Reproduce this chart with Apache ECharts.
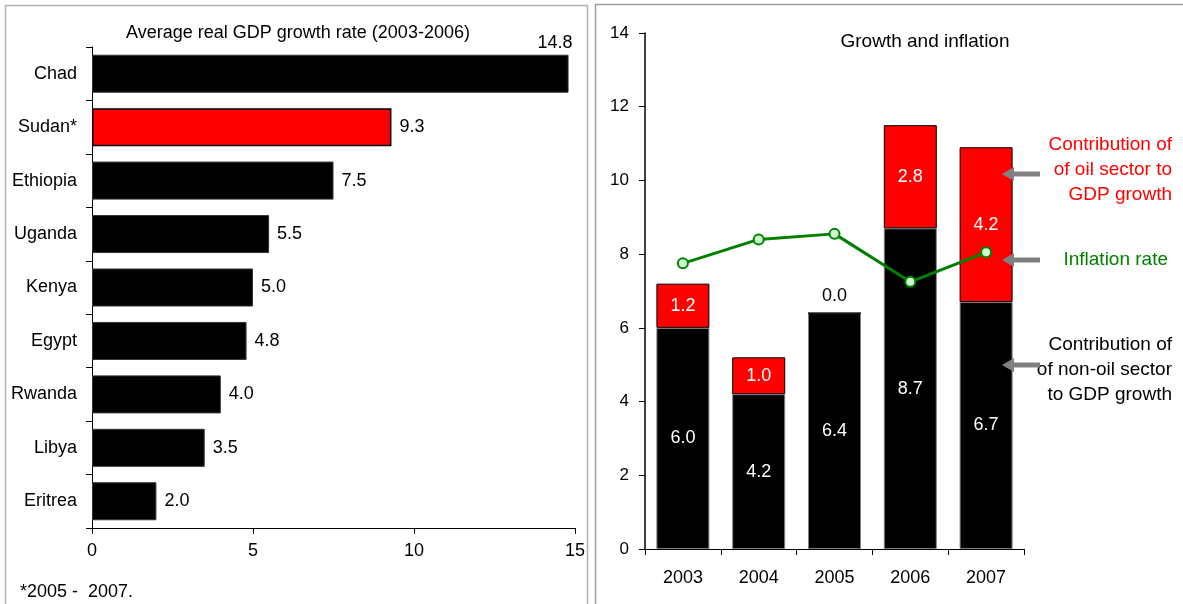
<!DOCTYPE html>
<html><head><meta charset="utf-8">
<script src="https://cdn.jsdelivr.net/npm/echarts@6/dist/echarts.min.js"></script>
<style>html,body{margin:0;padding:0;background:#fff}#c{width:1183px;height:604px}</style>
</head><body><div id="c"></div>
<script>
// ---- Data ----
const countries = ['Chad', 'Sudan*', 'Ethiopia', 'Uganda', 'Kenya', 'Egypt', 'Rwanda', 'Libya', 'Eritrea'];
const avgGrowth = [14.8, 9.3, 7.5, 5.5, 5.0, 4.8, 4.0, 3.5, 2.0];
const highlightCountry = 'Sudan*';
const leftTitle = 'Average real GDP growth rate (2003-2006)';
const footnote = '*2005 -  2007.';

const years = ['2003', '2004', '2005', '2006', '2007'];
const nonOilContribution = [6.0, 4.2, 6.4, 8.7, 6.7];
const oilContribution = [1.2, 1.0, 0.0, 2.8, 4.2];
const inflationRate = [7.75, 8.4, 8.55, 7.25, 8.05];
const rightTitle = 'Growth and inflation';
const oilNote = ['Contribution of', 'of oil sector to', 'GDP growth'];
const inflationNote = 'Inflation rate';
const nonOilNote = ['Contribution of', 'of non-oil sector', 'to GDP growth'];

const leftAxisMax = 15, leftAxisInterval = 5;
const rightAxisMax = 14, rightAxisInterval = 2;

// ---- Chart ----
const FONT = "'Liberation Sans', Arial, sans-serif";
const FS = 18;
const chart = echarts.init(document.getElementById('c'), null, {renderer: 'canvas'});

const leftData = avgGrowth.map((v, i) => {
  const item = {value: v};
  if (countries[i] === highlightCountry) {
    item.itemStyle = {color: '#ff0000', borderColor: '#000', borderWidth: 1.5};
  }
  if (v / leftAxisMax > 0.9) {
    item.label = {position: ['100%', 0], align: 'right', verticalAlign: 'bottom', offset: [4, -3]};
  }
  return item;
});

const oilData = oilContribution.map(v => v === 0
  ? {value: v, label: {position: 'top', color: '#000', distance: 8}}
  : {value: v});

function arrow(y) {
  return {
    type: 'group', z: 100,
    children: [
      {type: 'line', z: 100, shape: {x1: 1040, y1: y, x2: 1012, y2: y}, style: {stroke: '#808080', lineWidth: 5}},
      {type: 'polygon', z: 100, shape: {points: [[1002, y], [1014, y - 7], [1014, y + 7]]}, style: {fill: '#808080'}}
    ]
  };
}
function noteLines(lines, y0, color) {
  return lines.map((t, i) => ({
    type: 'text', x: 1172, y: y0 + i * 25, z: 100,
    style: {text: t, fill: color, font: '19px ' + FONT, textAlign: 'right', textVerticalAlign: 'middle'}
  }));
}

const option = {
  animation: false,
  textStyle: {fontFamily: FONT},
  grid: [
    {left: 92, top: 47, width: 483, height: 481},
    {left: 645, top: 33, width: 379, height: 516}
  ],
  xAxis: [
    {
      type: 'value', gridIndex: 0, min: 0, max: leftAxisMax, interval: leftAxisInterval,
      axisLine: {show: true, lineStyle: {color: '#000', width: 1}},
      axisTick: {show: true, length: 6, lineStyle: {color: '#000'}},
      splitLine: {show: false},
      axisLabel: {color: '#000', fontSize: FS, margin: 14, fontFamily: FONT}
    },
    {
      type: 'category', gridIndex: 1, data: years,
      axisLine: {show: true, lineStyle: {color: '#000', width: 1}},
      axisTick: {show: true, length: 6, lineStyle: {color: '#000'}},
      axisLabel: {color: '#000', fontSize: FS, margin: 20, fontFamily: FONT}
    }
  ],
  yAxis: [
    {
      type: 'category', gridIndex: 0, data: countries, inverse: true,
      axisLine: {show: true, lineStyle: {color: '#000', width: 1}},
      axisTick: {show: true, length: 6, lineStyle: {color: '#000'}},
      axisLabel: {color: '#000', fontSize: FS, margin: 15, fontFamily: FONT}
    },
    {
      type: 'value', gridIndex: 1, min: 0, max: rightAxisMax, interval: rightAxisInterval,
      axisLine: {show: true, lineStyle: {color: '#000', width: 1.5}},
      axisTick: {show: true, length: 6, lineStyle: {color: '#000'}},
      splitLine: {show: false},
      axisLabel: {color: '#000', fontSize: 17, margin: 16, fontFamily: FONT}
    }
  ],
  series: [
    {
      type: 'bar', xAxisIndex: 0, yAxisIndex: 0, data: leftData, barWidth: 38,
      itemStyle: {color: '#000', borderColor: '#333', borderWidth: 1},
      label: {show: true, position: 'right', color: '#000', fontSize: FS, distance: 8,
              fontFamily: FONT, formatter: p => p.value.toFixed(1)}
    },
    {
      name: 'Non-oil', type: 'bar', xAxisIndex: 1, yAxisIndex: 1, stack: 'gdp', barWidth: 53,
      data: nonOilContribution,
      itemStyle: {color: '#000', borderColor: '#808080', borderWidth: 1},
      label: {show: true, position: 'inside', color: '#fff', fontSize: FS, fontFamily: FONT,
              formatter: p => p.value.toFixed(1)}
    },
    {
      name: 'Oil', type: 'bar', xAxisIndex: 1, yAxisIndex: 1, stack: 'gdp', barWidth: 53,
      data: oilData,
      itemStyle: {color: '#ff0000', borderColor: '#000', borderWidth: 1},
      label: {show: true, position: 'inside', color: '#fff', fontSize: FS, fontFamily: FONT,
              formatter: p => p.value.toFixed(1)}
    },
    {
      name: 'Inflation', type: 'line', xAxisIndex: 1, yAxisIndex: 1, data: inflationRate, z: 5,
      lineStyle: {color: '#008000', width: 3},
      symbol: 'circle', symbolSize: 10,
      itemStyle: {color: '#ccffcc', borderColor: '#008000', borderWidth: 2}
    }
  ],
  graphic: [
    {type: 'rect', shape: {x: 5.5, y: 5.5, width: 582, height: 620}, style: {fill: 'none', stroke: '#b0b0b0', lineWidth: 1.5}, z: -10},
    {type: 'rect', shape: {x: 595.5, y: 4.5, width: 620, height: 620}, style: {fill: 'none', stroke: '#a0a0a0', lineWidth: 1.5}, z: -10},
    {type: 'text', x: 298, y: 33, style: {text: leftTitle, fill: '#000', font: '18px ' + FONT, textAlign: 'center', textVerticalAlign: 'middle'}},
    {type: 'text', x: 20, y: 592, style: {text: footnote, fill: '#000', font: '18px ' + FONT, textAlign: 'left', textVerticalAlign: 'middle'}},
    {type: 'text', x: 925, y: 42, style: {text: rightTitle, fill: '#000', font: '19px ' + FONT, textAlign: 'center', textVerticalAlign: 'middle'}},
    ...noteLines(oilNote, 145, '#ff0000'),
    {type: 'text', x: 1168, y: 260, z: 100, style: {text: inflationNote, fill: '#008000', font: '19px ' + FONT, textAlign: 'right', textVerticalAlign: 'middle'}},
    ...noteLines(nonOilNote, 345, '#000'),
    arrow(174), arrow(260), arrow(365)
  ]
};
chart.setOption(option);
</script>
</body></html>
